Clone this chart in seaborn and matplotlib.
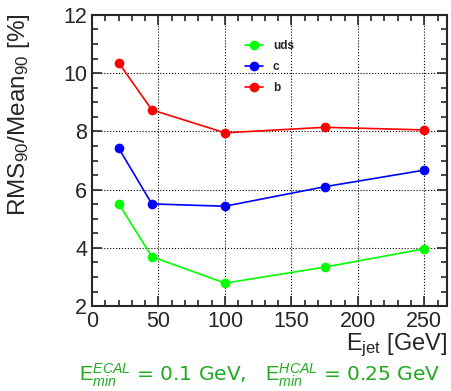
import numpy as np
import pandas as pd
import matplotlib
matplotlib.use("Agg")
import matplotlib.pyplot as plt
import seaborn as sns
from matplotlib.ticker import MultipleLocator

# data
energies = [20, 45, 100, 175, 250]
uds = [5.52, 3.70, 2.79, 3.34, 3.97]
c_quark = [7.43, 5.51, 5.43, 6.10, 6.67]
b_quark = [10.36, 8.74, 7.95, 8.14, 8.05]
flavours = ["uds", "c", "b"]
colours = ["#00ff00", "#0000ff", "#ff0000"]

df = pd.DataFrame({
    "E": energies * 3,
    "res": uds + c_quark + b_quark,
    "flavour": np.repeat(flavours, len(energies)),
})

sns.set_style("ticks")
plt.rcParams["font.family"] = ["Liberation Sans", "DejaVu Sans"]
plt.rcParams["mathtext.fontset"] = "custom"
plt.rcParams["mathtext.rm"] = "Liberation Sans"
plt.rcParams["mathtext.it"] = "Liberation Sans:italic"

fig = plt.figure(figsize=(4.51, 3.91), dpi=100)
ax = fig.add_axes([0.204, 0.217, 0.787, 0.745])

sns.lineplot(data=df, x="E", y="res", hue="flavour", hue_order=flavours,
             palette=colours, marker="o", markersize=7, markeredgewidth=0,
             linewidth=1.2, ax=ax)

ax.set_xlim(0, 267)
ax.set_ylim(2, 12)
ax.xaxis.set_major_locator(MultipleLocator(50))
ax.xaxis.set_minor_locator(MultipleLocator(10))
ax.yaxis.set_major_locator(MultipleLocator(2))
ax.yaxis.set_minor_locator(MultipleLocator(0.5))
ax.tick_params(which="both", direction="in", top=True, right=True, width=1.2)
ax.tick_params(which="major", length=7, labelsize=15.5)
ax.tick_params(which="minor", length=4)
ax.grid(True, which="major", color="black", linestyle=":", linewidth=0.8)
for s in ax.spines.values():
    s.set_linewidth(1.5)

ax.set_xlabel(r"E$_{\rm jet}$ [GeV]", fontsize=17, loc="right", labelpad=0)
ax.set_ylabel(r"RMS$_{90}$/Mean$_{90}$ [%]", fontsize=17.5, loc="top")
ax.yaxis.set_label_coords(-0.17, 1.007)

leg = ax.legend(loc="upper left", bbox_to_anchor=(0.4, 0.95), frameon=False,
                handlelength=1.6, labelspacing=0.75,
                prop={"weight": "bold", "size": 8.5})

fig.text(0.575, 0.005,
         r"$\mathrm{E}_{min}^{ECAL}$ = 0.1 GeV,   $\mathrm{E}_{min}^{HCAL}$ = 0.25 GeV",
         color="#22aa22", fontsize=14.5, ha="center", va="bottom",
         family="DejaVu Sans")

fig.savefig("out.png", dpi=100)
